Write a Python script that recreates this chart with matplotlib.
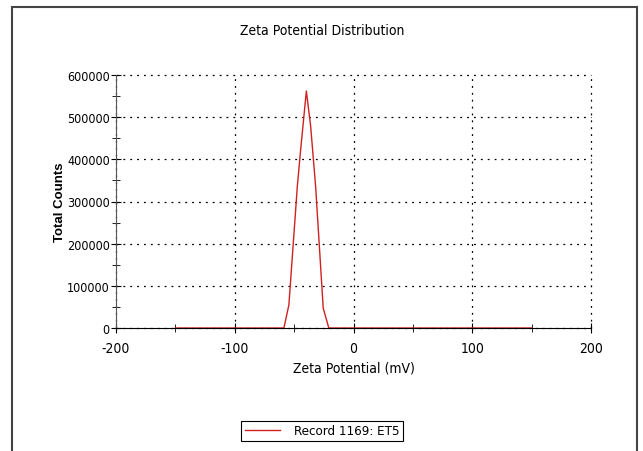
import numpy as np
import matplotlib
matplotlib.use("Agg")
import matplotlib.pyplot as plt
from matplotlib.patches import Rectangle
from matplotlib.ticker import MultipleLocator

plt.rcParams['font.family'] = ['DejaVu Sans']
plt.rcParams['font.stretch'] = 'condensed'
plt.rcParams['axes.unicode_minus'] = False

# zeta potential (mV) vs total counts
zeta_mv = [-150, -58.6, -54.4, -47.3, -44.5, -39.7, -36.1, -31.9, -25.5, -20.8, 150]
counts = [0, 0, 55000, 336000, 423000, 562000, 479000, 336000, 47000, 0, 0]
record_label = "Record 1169: ET5"

fig = plt.figure(figsize=(6.43, 4.52), dpi=100)
ax = fig.add_axes([116 / 643, 1 - 329 / 452, 475 / 643, 253 / 452])

ax.plot(zeta_mv, counts, color='#d02020', lw=1.0, label=record_label)

ax.set_xlim(-200, 200)
ax.set_ylim(0, 600000)
ax.xaxis.set_major_locator(MultipleLocator(100))
ax.xaxis.set_minor_locator(MultipleLocator(50))
ax.yaxis.set_major_locator(MultipleLocator(100000))
ax.yaxis.set_minor_locator(MultipleLocator(50000))
ax.tick_params(which='both', direction='inout', colors='black')
ax.tick_params(which='major', length=7)
ax.tick_params(which='minor', length=6)
ax.tick_params(axis='x', pad=6, labelsize=10)
ax.tick_params(axis='y', pad=1, labelsize=9)

ax.grid(True, which='major', color='black', linestyle=(0, (1.5, 4)), lw=0.9)
for gl in ax.get_xgridlines() + ax.get_ygridlines():
    gl.set_clip_on(False)
for s in ['top', 'right']:
    ax.spines[s].set_visible(False)
ax.spines['left'].set_color('#555555')
ax.spines['bottom'].set_color('black')

ax.set_xlabel("Zeta Potential (mV)", fontsize=10, labelpad=4)
fig.text(60 / 643, 1 - 202 / 452, "Total Counts", rotation=90, ha='center', va='center',
         fontsize=9.5, fontweight='bold', family=['Liberation Sans', 'DejaVu Sans'])
fig.text(322 / 643, 1 - 31 / 452, "Zeta Potential Distribution", ha='center', va='center',
         fontsize=10)

leg = fig.legend(loc='center', bbox_to_anchor=(322 / 643, 1 - 432 / 452), fontsize=9.5,
                 fancybox=False, edgecolor='black', framealpha=1, handlelength=2.7,
                 borderpad=0.3, handletextpad=1.0)
leg.get_frame().set_linewidth(0.8)

fig.patches.append(Rectangle((12 / 643, -0.05), 625 / 643, 1.05 - 8 / 452,
                             transform=fig.transFigure, fill=False,
                             edgecolor='#444444', lw=1.5))

fig.savefig("out.png", dpi=100)
